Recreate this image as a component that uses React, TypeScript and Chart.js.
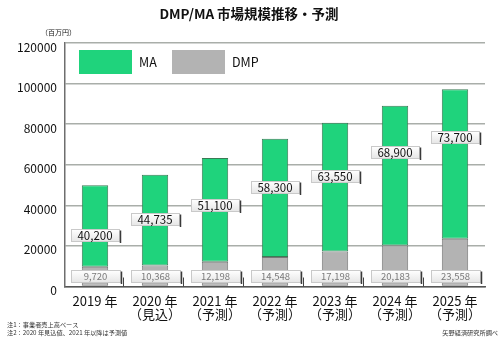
import React, { useEffect, useRef } from "react";
import { Chart, registerables } from "chart.js";

Chart.register(...registerables);

// ---- data ----
const categories: string[][] = [
  ["2019 年"],
  ["2020 年", "（見込）"],
  ["2021 年", "（予測）"],
  ["2022 年", "（予測）"],
  ["2023 年", "（予測）"],
  ["2024 年", "（予測）"],
  ["2025 年", "（予測）"],
];
const maValues = [40200, 44735, 51100, 58300, 63550, 68900, 73700];
const dmpValues = [9720, 10368, 12198, 14548, 17198, 20183, 23558];
const seriesNames = ["MA", "DMP"];
const yMax = 120000;
const yStep = 20000;
const titleText = "DMP/MA 市場規模推移・予測";
const unitText = "（百万円）";
const notes = ["注1：事業者売上高ベース", "注2：2020 年見込値、2021 年以降は予測値"];
const sourceText = "矢野経済研究所調べ";

// ---- label placement (value-axis anchors for the callout boxes) ----
const maLabelAnchor = [25400, 33100, 40200, 49200, 54600, 66200, 73800];
const dmpLabelAnchor = 5200;

const GREEN = "#1fd37c";
const GREEN_BORDER = "#3b7a55";
const GRAY = "#b3b3b3";
const GRAY_BORDER = "#767676";
const FONT = "'Noto Sans CJK JP', 'Noto Sans', sans-serif";

function fmt(n: number) {
  return n.toLocaleString("en-US");
}

function drawBox(ctx: CanvasRenderingContext2D, cx: number, cy: number, w: number, h: number, text: string, color: string, size: number) {
  const x = Math.round(cx - w / 2) + 0.5;
  const y = Math.round(cy - h / 2) + 0.5;
  const g = ctx.createLinearGradient(0, y, 0, y + h);
  g.addColorStop(0, "#ffffff");
  g.addColorStop(1, "#e6e6e6");
  ctx.fillStyle = g;
  ctx.fillRect(x, y, w, h);
  ctx.strokeStyle = "#c9c9c9";
  ctx.lineWidth = 1;
  ctx.strokeRect(x, y, w, h);
  // shadow on right
  ctx.strokeStyle = "#3a3a3a";
  ctx.lineWidth = 1.5;
  ctx.beginPath();
  ctx.moveTo(x + w + 1, y + 1);
  ctx.lineTo(x + w + 1, y + h + 1.5);
  ctx.stroke();
  ctx.fillStyle = color;
  ctx.font = `${size}px ${FONT}`;
  ctx.textAlign = "center";
  ctx.textBaseline = "middle";
  ctx.fillText(text, cx, cy + 0.5);
}

const decorPlugin = {
  id: "decor",
  beforeDraw(chart: any) {
    const ctx = chart.ctx as CanvasRenderingContext2D;
    ctx.save();
    ctx.fillStyle = "#ffffff";
    ctx.fillRect(0, 0, chart.width, chart.height);
    ctx.restore();
  },
  afterDatasetsDraw(chart: any) {
    const ctx = chart.ctx as CanvasRenderingContext2D;
    const xs = chart.scales.x;
    const ys = chart.scales.y;
    const area = chart.chartArea;
    ctx.save();
    // inward ticks between categories
    ctx.strokeStyle = "#444";
    ctx.lineWidth = 1;
    for (let i = 1; i < categories.length; i++) {
      const px = Math.round((xs.getPixelForValue(i - 1) + xs.getPixelForValue(i)) / 2) - 1.5;
      ctx.beginPath();
      ctx.moveTo(px, area.bottom - 9);
      ctx.lineTo(px, area.bottom);
      ctx.stroke();
    }
    // value callouts
    for (let i = 0; i < categories.length; i++) {
      const cx = xs.getPixelForValue(i);
      drawBox(ctx, cx, ys.getPixelForValue(maLabelAnchor[i]), 48, 12, fmt(maValues[i]), "#111", 11.5);
      drawBox(ctx, cx + 0.5, ys.getPixelForValue(dmpLabelAnchor), 49, 12, fmt(dmpValues[i]), "#7a7a7a", 9.5);
    }
    // legend
    const lx = area.left + 14;
    const ly = area.top + 7;
    const items = [
      { name: seriesNames[0], color: GREEN },
      { name: seriesNames[1], color: GRAY },
    ];
    let x = lx;
    items.forEach((it) => {
      ctx.fillStyle = it.color;
      ctx.fillRect(x, ly, 53, 24);
      ctx.fillStyle = "#111";
      ctx.font = `12.5px ${FONT}`;
      ctx.textAlign = "left";
      ctx.textBaseline = "middle";
      ctx.fillText(it.name, x + 60, ly + 12.5);
      x += 93;
    });
    ctx.restore();
  },
  afterDraw(chart: any) {
    const ctx = chart.ctx as CanvasRenderingContext2D;
    ctx.save();
    ctx.fillStyle = "#111";
    ctx.textBaseline = "middle";
    ctx.textAlign = "center";
    ctx.font = `bold 13.5px ${FONT}`;
    ctx.fillText(titleText, 249, 14);
    ctx.font = `7px ${FONT}`;
    ctx.textAlign = "left";
    ctx.fillText(unitText, 41, 32);
    ctx.fillStyle = "#333";
    ctx.font = `6.2px ${FONT}`;
    ctx.fillText(notes[0], 7, 325);
    ctx.fillText(notes[1], 7, 333);
    ctx.textAlign = "right";
    ctx.fillText(sourceText, 498, 333);
    ctx.restore();
  },
};

export default function App() {
  const ref = useRef<HTMLCanvasElement | null>(null);
  useEffect(() => {
    document.body.style.margin = "0";
    const canvas = ref.current!;
    const chart = new Chart(canvas, {
      type: "bar",
      data: {
        labels: categories,
        datasets: [
          {
            label: seriesNames[1],
            data: dmpValues,
            backgroundColor: GRAY,
            borderColor: GRAY_BORDER,
            borderWidth: 1,
            borderSkipped: false,
            barPercentage: 0.44,
            categoryPercentage: 1,
          },
          {
            label: seriesNames[0],
            data: maValues,
            backgroundColor: GREEN,
            borderColor: GREEN_BORDER,
            borderWidth: 1,
            borderSkipped: false,
            barPercentage: 0.44,
            categoryPercentage: 1,
          },
        ],
      },
      options: {
        animation: false,
        responsive: false,
        maintainAspectRatio: false,
        layout: { padding: { top: 43, right: 15, left: 0, bottom: 0 } },
        plugins: {
          legend: { display: false },
          tooltip: { enabled: false },
          title: { display: false },
        },
        scales: {
          x: {
            stacked: true,
            grid: { display: false, drawTicks: false },
            border: { display: true, color: "#555555", width: 1.5 },
            ticks: {
              color: "#111",
              font: { family: FONT, size: 13, lineHeight: 1 },
              padding: 8,
              maxRotation: 0,
              autoSkip: false,
            },
            afterFit: (s: any) => {
              s.height = 51.5;
            },
          },
          y: {
            stacked: true,
            min: 0,
            max: yMax,
            grid: { color: "#a9aea9", lineWidth: 1.5, drawTicks: false },
            border: { display: true, color: "#6e6e6e", width: 1.5 },
            ticks: {
              stepSize: yStep,
              color: "#111",
              font: { family: FONT, size: 12 },
              padding: 8,
              labelOffset: 4,
              callback: (v: any) => String(v),
            },
            afterFit: (s: any) => {
              s.width = 65;
            },
          },
        },
      },
      plugins: [decorPlugin],
    });
    return () => chart.destroy();
  }, []);
  return (
    <div style={{ width: 500, height: 338 }}>
      <canvas ref={ref} width={500} height={338} style={{ display: "block" }} />
    </div>
  );
}
